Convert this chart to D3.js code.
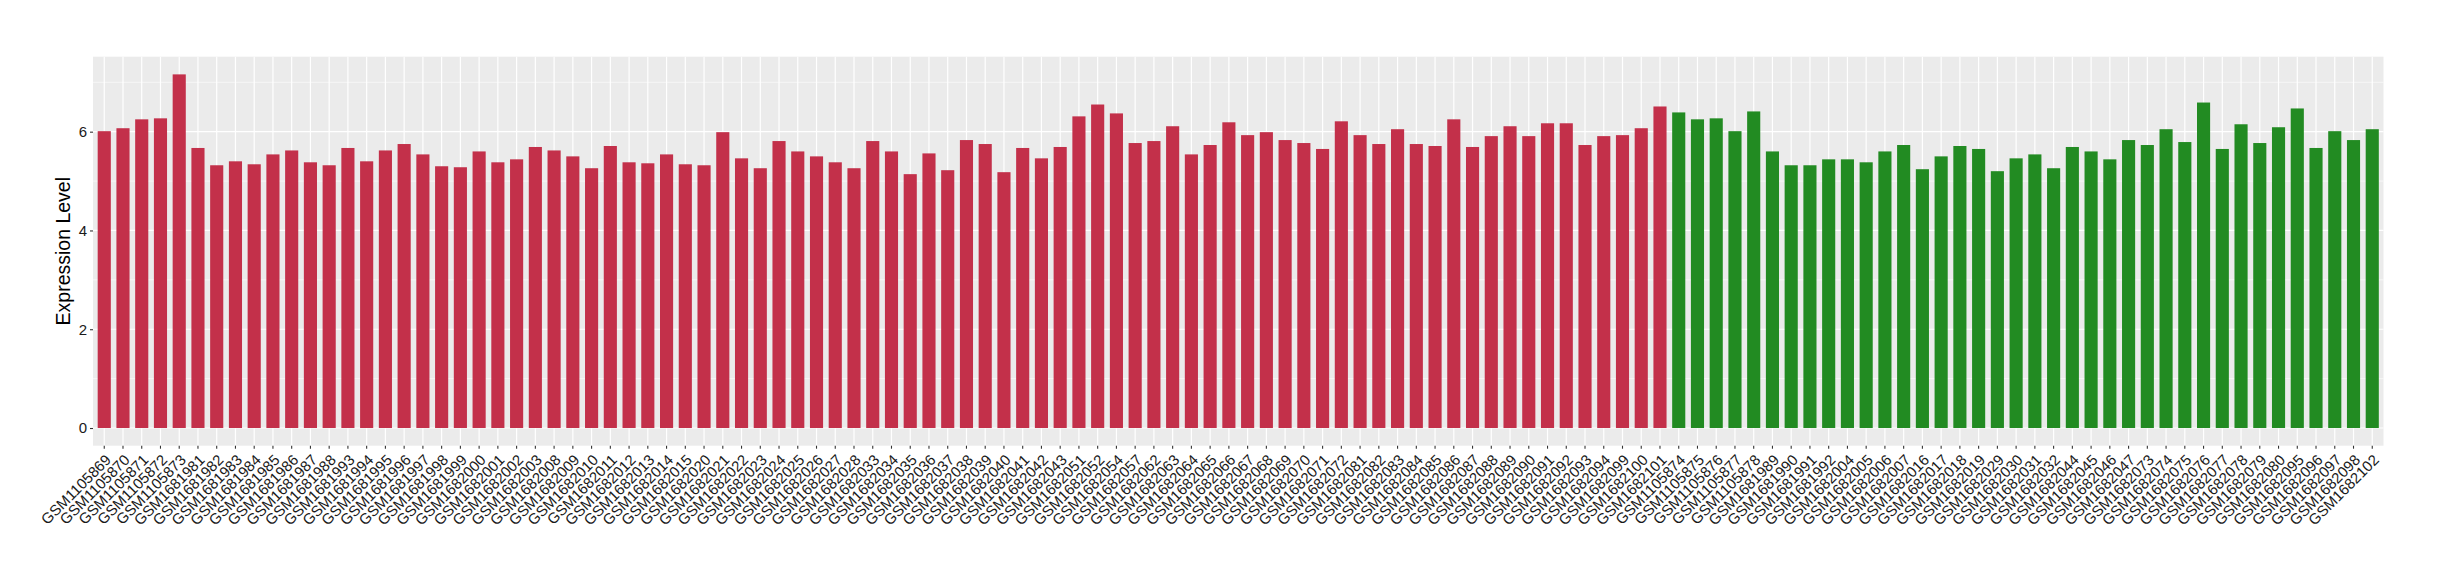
<!DOCTYPE html>
<html>
<head>
<meta charset="utf-8">
<script src="https://cdn.jsdelivr.net/npm/d3@7"></script>
<style>
  html, body { margin: 0; padding: 0; background: #ffffff; }
  svg { display: block; }
  text { font-family: "Liberation Sans", Arial, Helvetica, sans-serif; }
</style>
</head>
<body>
<svg id="chart" width="2440" height="580"></svg>
<script>
// ---- Data ----
const labelsRed = [
  "GSM1105869","GSM1105870","GSM1105871","GSM1105872","GSM1105873",
  "GSM1681981","GSM1681982","GSM1681983","GSM1681984","GSM1681985","GSM1681986","GSM1681987","GSM1681988",
  "GSM1681993","GSM1681994","GSM1681995","GSM1681996","GSM1681997","GSM1681998","GSM1681999",
  "GSM1682000","GSM1682001","GSM1682002","GSM1682003","GSM1682008","GSM1682009","GSM1682010","GSM1682011",
  "GSM1682012","GSM1682013","GSM1682014","GSM1682015","GSM1682020","GSM1682021","GSM1682022","GSM1682023",
  "GSM1682024","GSM1682025","GSM1682026","GSM1682027","GSM1682028","GSM1682033","GSM1682034","GSM1682035",
  "GSM1682036","GSM1682037","GSM1682038","GSM1682039","GSM1682040","GSM1682041","GSM1682042","GSM1682043",
  "GSM1682051","GSM1682052","GSM1682054","GSM1682057","GSM1682062","GSM1682063","GSM1682064","GSM1682065",
  "GSM1682066","GSM1682067","GSM1682068","GSM1682069","GSM1682070","GSM1682071","GSM1682072","GSM1682081",
  "GSM1682082","GSM1682083","GSM1682084","GSM1682085","GSM1682086","GSM1682087","GSM1682088","GSM1682089",
  "GSM1682090","GSM1682091","GSM1682092","GSM1682093","GSM1682094","GSM1682099","GSM1682100","GSM1682101"
];
const valuesRed = [
  6.01, 6.07, 6.25, 6.27, 7.16,
  5.67, 5.32, 5.40, 5.34, 5.54, 5.62, 5.38, 5.32,
  5.67, 5.40, 5.62, 5.75, 5.54, 5.30, 5.28,
  5.60, 5.38, 5.44, 5.69, 5.62, 5.50, 5.26, 5.71,
  5.38, 5.36, 5.54, 5.34, 5.32, 5.99, 5.46, 5.26,
  5.81, 5.60, 5.50, 5.38, 5.26, 5.81, 5.60, 5.14,
  5.56, 5.22, 5.83, 5.75, 5.18, 5.67, 5.46, 5.69,
  6.31, 6.55, 6.37, 5.77, 5.81, 6.11, 5.54, 5.73,
  6.19, 5.93, 5.99, 5.83, 5.77, 5.65, 6.21, 5.93,
  5.75, 6.05, 5.75, 5.71, 6.25, 5.69, 5.91, 6.11,
  5.91, 6.17, 6.17, 5.73, 5.91, 5.93, 6.07, 6.51
];
const labelsGreen = [
  "GSM1105874","GSM1105875","GSM1105876","GSM1105877","GSM1105878",
  "GSM1681989","GSM1681990","GSM1681991","GSM1681992",
  "GSM1682004","GSM1682005","GSM1682006","GSM1682007",
  "GSM1682016","GSM1682017","GSM1682018","GSM1682019",
  "GSM1682029","GSM1682030","GSM1682031","GSM1682032",
  "GSM1682044","GSM1682045","GSM1682046","GSM1682047",
  "GSM1682073","GSM1682074","GSM1682075","GSM1682076","GSM1682077","GSM1682078","GSM1682079","GSM1682080",
  "GSM1682095","GSM1682096","GSM1682097","GSM1682098","GSM1682102"
];
const valuesGreen = [
  6.39, 6.25, 6.27, 6.01, 6.41,
  5.60, 5.32, 5.32, 5.44,
  5.44, 5.38, 5.60, 5.73,
  5.24, 5.50, 5.71, 5.65,
  5.20, 5.46, 5.54, 5.26,
  5.69, 5.60, 5.44, 5.83,
  5.73, 6.05, 5.79, 6.59, 5.65, 6.15, 5.77, 6.09,
  6.47, 5.67, 6.01, 5.83, 6.05
];
const yTicks = [0, 2, 4, 6];
const yMinorTicks = [1, 3, 5, 7];
const yTitle = "Expression Level";

// ---- Build rows ----
const rows = labelsRed.map((l, i) => ({ label: l, value: valuesRed[i], group: "red" }))
  .concat(labelsGreen.map((l, i) => ({ label: l, value: valuesGreen[i], group: "green" })));

const colors = { red: "#C3304A", green: "#228B22" };

// ---- Layout ----
const panel = { left: 93, right: 2383.5, top: 56.7, bottom: 445.7 };
const svg = d3.select("#chart");

const x = d3.scaleBand()
  .domain(rows.map(d => d.label))
  .range([panel.left, panel.right])
  .paddingInner(0.3)
  .paddingOuter(0.25);

const vmax = d3.max(rows, d => d.value);
const y = d3.scaleLinear()
  .domain([-0.05 * vmax, vmax * 1.05])
  .range([panel.bottom, panel.top]);

// Panel background
svg.append("rect")
  .attr("x", panel.left).attr("y", panel.top)
  .attr("width", panel.right - panel.left).attr("height", panel.bottom - panel.top)
  .attr("fill", "#EBEBEB");

const grid = svg.append("g");
grid.selectAll("line.minor").data(yMinorTicks.filter(t => y(t) >= panel.top)).join("line")
  .attr("class", "minor")
  .attr("x1", panel.left).attr("x2", panel.right)
  .attr("y1", d => y(d)).attr("y2", d => y(d))
  .attr("stroke", "#ffffff").attr("stroke-width", 0.6);
grid.selectAll("line.majorh").data(yTicks).join("line")
  .attr("class", "majorh")
  .attr("x1", panel.left).attr("x2", panel.right)
  .attr("y1", d => y(d)).attr("y2", d => y(d))
  .attr("stroke", "#ffffff").attr("stroke-width", 1.2);
grid.selectAll("line.majorv").data(rows).join("line")
  .attr("class", "majorv")
  .attr("x1", d => x(d.label) + x.bandwidth() / 2).attr("x2", d => x(d.label) + x.bandwidth() / 2)
  .attr("y1", panel.top).attr("y2", panel.bottom)
  .attr("stroke", "#ffffff").attr("stroke-width", 1.2);

// Bars
svg.append("g").selectAll("rect").data(rows).join("rect")
  .attr("x", d => x(d.label))
  .attr("width", x.bandwidth())
  .attr("y", d => y(d.value))
  .attr("height", d => y(0) - y(d.value))
  .attr("fill", d => colors[d.group]);

const tickTextColor = "#1A1A1A";

// Y axis
const yAxis = d3.axisLeft(y).tickValues(yTicks).tickSize(3).tickPadding(3).tickFormat(d3.format("d"));
const gy = svg.append("g").attr("transform", `translate(${panel.left},0)`).call(yAxis);
gy.select(".domain").remove();
gy.selectAll(".tick line").attr("stroke", "#333333").attr("stroke-width", 1.1);
gy.selectAll(".tick text").attr("fill", tickTextColor).style("font-size", "15px")
  .style("font-family", '"Liberation Sans", Arial, sans-serif');

// X axis
const xAxis = d3.axisBottom(x).tickSize(3).tickPadding(0);
const gx = svg.append("g").attr("transform", `translate(0,${panel.bottom})`).call(xAxis);
gx.select(".domain").remove();
gx.selectAll(".tick line").attr("stroke", "#333333").attr("stroke-width", 1.1);
gx.selectAll(".tick text")
  .attr("fill", tickTextColor)
  .style("font-size", "15px")
  .style("font-family", '"Liberation Sans", Arial, sans-serif')
  .attr("text-anchor", "end")
  .attr("y", 0).attr("dy", "0.72em")
  .attr("transform", "translate(0,7.5) rotate(-45)");

// Y title
svg.append("text")
  .attr("transform", `translate(70,${(panel.top + panel.bottom) / 2}) rotate(-90)`)
  .attr("text-anchor", "middle")
  .attr("fill", "#000000")
  .style("font-size", "19.5px")
  .text(yTitle);
</script>
</body>
</html>
